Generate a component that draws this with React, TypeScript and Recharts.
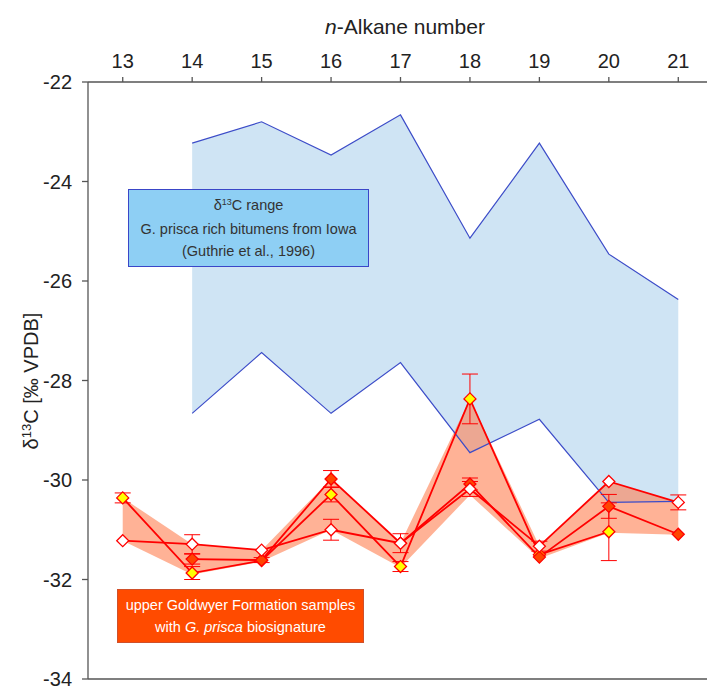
import React from "react";
import {
  ComposedChart,
  Area,
  Line,
  XAxis,
  YAxis,
  ReferenceLine,
  ErrorBar,
} from "recharts";

// n-alkane carbon numbers
const alkanes = [13, 14, 15, 16, 17, 18, 19, 20, 21];
const xTicks = [13, 14, 15, 16, 17, 18, 19, 20, 21];
const yTicks = [-34, -32, -30, -28, -26, -24, -22];

// Guthrie et al. (1996) range, Iowa bitumens
const iowaMax = [null, -23.23, -22.8, -23.47, -22.66, -25.14, -23.23, -25.46, -26.37];
const iowaMin = [null, -28.66, -27.44, -28.66, -27.64, -29.45, -28.78, -30.45, -30.43];

// upper Goldwyer samples
const whiteVals = [-31.22, -31.29, -31.41, -31.0, -31.27, -30.18, -31.33, -30.03, -30.45];
const whiteErr = [0, 0.19, 0, 0.21, 0.19, 0.15, 0.1, 0, 0.15];
const yellowVals = [-30.36, -31.87, -31.62, -30.29, -31.74, -28.37, -31.5, -31.04, null];
const yellowErr = [0.1, 0.13, 0, 0.15, 0.1, 0.5, 0, 0.58, 0];
const filledVals = [null, -31.59, -31.61, -29.98, -31.27, -30.08, -31.55, -30.53, -31.09];
const filledErr = [0, 0.1, 0.05, 0.17, 0, 0.12, 0, 0.24, 0];

// orange envelope
const bandLow = [-31.22, -31.9, -31.64, -31.0, -31.76, -30.3, -31.58, -31.06, -31.1];
const bandHigh = [-30.36, -31.29, -31.41, -29.98, -31.27, -28.37, -31.33, -30.03, -30.45];

const data = alkanes.map((n, i) => ({
  n,
  iowa: iowaMax[i] === null ? null : [iowaMin[i], iowaMax[i]],
  iowaMax: iowaMax[i],
  iowaMin: iowaMin[i],
  band: [bandLow[i], bandHigh[i]],
  white: whiteVals[i],
  whiteErr: whiteErr[i],
  yellow: yellowVals[i],
  yellowErr: yellowErr[i],
  filled: filledVals[i],
  filledErr: filledErr[i],
}));

const RED = "#ff0000";
const FONT = "'Liberation Sans', Arial, sans-serif";

function diamond(fill: string) {
  return (props: any) => {
    const { cx, cy, index, value } = props;
    if (cx == null || cy == null || value == null) return <g key={`e-${index}`} />;
    const r = 6;
    const pts = `${cx},${cy - r} ${cx + r},${cy} ${cx},${cy + r} ${cx - r},${cy}`;
    return (
      <polygon key={`d-${index}`} points={pts} fill={fill} stroke={RED} strokeWidth={1.3} />
    );
  };
}

export default function App() {
  const tickStyle = { fontSize: 20, fill: "#222", fontFamily: FONT };
  return (
    <div
      style={{
        position: "absolute",
        left: 0,
        top: 0,
        width: 707,
        height: 686,
        overflow: "hidden",
        background: "#fff",
        fontFamily: FONT,
      }}
    >
      <ComposedChart
        width={720}
        height={686}
        data={data}
        margin={{ top: 42, right: 7, bottom: 7, left: 0 }}
      >
        <XAxis
          dataKey="n"
          type="number"
          orientation="top"
          domain={[12.5, 21.5]}
          ticks={xTicks}
          height={40}
          tickSize={5}
          tickMargin={9}
          tick={tickStyle}
          stroke="#555"
          strokeWidth={1.3}
          interval={0}
        />
        <YAxis
          type="number"
          domain={[-34, -22]}
          ticks={yTicks}
          width={88}
          tickSize={6}
          tickMargin={10}
          tick={tickStyle}
          stroke="#555"
          strokeWidth={1.3}
          interval={0}
        />
        <ReferenceLine y={-34} stroke="#555" strokeWidth={1.3} />

        <Area
          dataKey="iowa"
          type="linear"
          fill="#cfe4f4"
          fillOpacity={1}
          stroke="none"
          isAnimationActive={false}
        />
        <Line dataKey="iowaMax" type="linear" stroke="#3c4cc8" strokeWidth={1.2} dot={false} isAnimationActive={false} />
        <Line dataKey="iowaMin" type="linear" stroke="#3c4cc8" strokeWidth={1.2} dot={false} isAnimationActive={false} />

        <Area
          dataKey="band"
          type="linear"
          fill="#ff7f50"
          fillOpacity={0.6}
          stroke="none"
          isAnimationActive={false}
        />

        <Line dataKey="yellow" type="linear" stroke={RED} strokeWidth={1.8} dot={diamond("#ffff00")} isAnimationActive={false}>
          <ErrorBar dataKey="yellowErr" width={8} stroke={RED} strokeWidth={1} direction="y" />
        </Line>
        <Line dataKey="filled" type="linear" stroke={RED} strokeWidth={1.8} dot={diamond("#ff4500")} isAnimationActive={false}>
          <ErrorBar dataKey="filledErr" width={8} stroke={RED} strokeWidth={1} direction="y" />
        </Line>
        <Line dataKey="white" type="linear" stroke={RED} strokeWidth={1.8} dot={diamond("#ffffff")} isAnimationActive={false}>
          <ErrorBar dataKey="whiteErr" width={8} stroke={RED} strokeWidth={1} direction="y" />
        </Line>
      </ComposedChart>

      {/* top axis title */}
      <div
        style={{
          position: "absolute",
          left: 405,
          top: 27,
          transform: "translate(-50%, -50%)",
          fontSize: 21,
          color: "#222",
          whiteSpace: "nowrap",
        }}
      >
        <i>n</i>-Alkane number
      </div>

      {/* left axis title */}
      <div
        style={{
          position: "absolute",
          left: 31,
          top: 381,
          transform: "translate(-50%, -50%) rotate(-90deg)",
          fontSize: 20,
          color: "#222",
          whiteSpace: "nowrap",
        }}
      >
        δ<span style={{ fontSize: 13, position: "relative", top: -7 }}>13</span>C [‰ VPDB]
      </div>

      {/* Iowa range label */}
      <div
        style={{
          position: "absolute",
          left: 128,
          top: 189,
          width: 241,
          height: 78,
          boxSizing: "border-box",
          border: "1.5px solid #3a46c8",
          background: "#8ecff4",
          color: "#333",
          fontSize: 14.5,
          lineHeight: "22px",
          display: "flex",
          flexDirection: "column",
          justifyContent: "center",
          alignItems: "center",
          whiteSpace: "nowrap",
        }}
      >
        <div>
          δ<span style={{ fontSize: 9, position: "relative", top: -5 }}>13</span>C range
        </div>
        <div>G. prisca rich bitumens from Iowa</div>
        <div>(Guthrie et al., 1996)</div>
      </div>

      {/* Goldwyer label */}
      <div
        style={{
          position: "absolute",
          left: 117,
          top: 589,
          width: 247,
          height: 54,
          boxSizing: "border-box",
          border: "1px solid #d0502a",
          background: "#ff4b00",
          color: "#fff",
          fontSize: 14.5,
          lineHeight: "22px",
          display: "flex",
          flexDirection: "column",
          justifyContent: "center",
          alignItems: "center",
          whiteSpace: "nowrap",
        }}
      >
        <div>upper Goldwyer Formation samples</div>
        <div>
          with <i>G. prisca</i> biosignature
        </div>
      </div>
    </div>
  );
}
